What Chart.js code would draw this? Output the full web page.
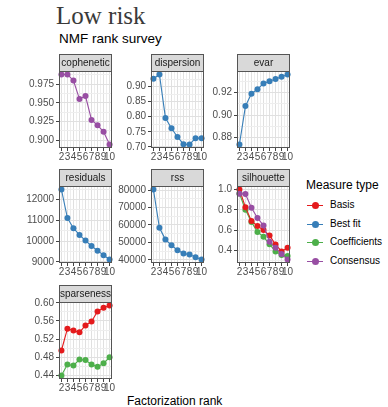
<!DOCTYPE html>
<html>
<head>
<meta charset="utf-8">
<script src="https://cdn.jsdelivr.net/npm/chart.js@4.4.0/dist/chart.umd.min.js"></script>
<style>
  body { margin:0; background:#fff; width:388px; height:407px; overflow:hidden; position:relative; font-family:"Liberation Sans", Arial, sans-serif; }
  canvas { position:absolute; }
  #title { position:absolute; left:56px; top:3px; font:25px/25px "Liberation Serif", serif; color:#3a3a3a; }
  #subtitle { position:absolute; left:59px; top:31px; font:13.5px/15px "Liberation Sans", Arial, sans-serif; color:#000; }
  #xlab { position:absolute; left:127px; top:394px; font:12px/14px "Liberation Sans", Arial, sans-serif; color:#000; }
  #legend { position:absolute; left:306px; top:177px; color:#000; }
  #legend .ttl { font:12px/16px "Liberation Sans", Arial, sans-serif; margin-bottom:3px; }
  #legend .item { position:relative; height:18.5px; font:10px/18.5px "Liberation Sans", Arial, sans-serif; padding-left:24px; }
  #legend .ln { position:absolute; left:1px; top:9px; width:16px; height:0; border-top:1px solid; }
  #legend .dot { position:absolute; left:5.5px; top:6px; width:7px; height:7px; border-radius:50%; }
</style>
</head>
<body>
<div id="title">Low risk</div>
<div id="subtitle">NMF rank survey</div>
<div id="xlab">Factorization rank</div>
<div id="legend"><div class="ttl">Measure type</div></div>
<script>
// data
const ranks = [2, 3, 4, 5, 6, 7, 8, 9, 10];
const cophenetic = [0.988, 0.988, 0.980, 0.955, 0.959, 0.927, 0.920, 0.911, 0.894];
const dispersion = [0.926, 0.940, 0.796, 0.762, 0.733, 0.709, 0.708, 0.729, 0.729];
const evar = [0.874, 0.908, 0.919, 0.923, 0.928, 0.930, 0.932, 0.934, 0.936];
const residuals = [12485, 11110, 10625, 10300, 10030, 9770, 9545, 9330, 9120];
const rss = [80300, 58400, 51600, 48400, 45500, 43600, 43000, 41500, 40200];
const silBasis = [1.000, 0.826, 0.690, 0.640, 0.600, 0.547, 0.458, 0.390, 0.425];
const silCoef = [0.960, 0.800, 0.680, 0.580, 0.535, 0.460, 0.390, 0.355, 0.345];
const silCons = [0.958, 0.955, 0.820, 0.720, 0.645, 0.485, 0.425, 0.365, 0.310];
const sparBasis = [0.495, 0.543, 0.539, 0.535, 0.550, 0.559, 0.581, 0.589, 0.594];
const sparCoef = [0.440, 0.464, 0.462, 0.475, 0.474, 0.464, 0.459, 0.467, 0.480];

// tick labels
const rankLabels = ['2', '3', '4', '5', '6', '7', '8', '9', '10'];
const cophTicks = ['0.900', '0.925', '0.950', '0.975'];
const dispTicks = ['0.70', '0.75', '0.80', '0.85', '0.90'];
const evarTicks = ['0.88', '0.90', '0.92'];
const residTicks = ['9000', '10000', '11000', '12000'];
const rssTicks = ['40000', '50000', '60000', '70000', '80000'];
const silTicks = ['0.4', '0.6', '0.8', '1.0'];
const sparTicks = ['0.44', '0.48', '0.52', '0.56', '0.60'];

const measures = ['Basis', 'Best fit', 'Coefficients', 'Consensus'];
const colors = { 'Basis':'#E41A1C', 'Best fit':'#377EB8', 'Coefficients':'#4DAF4A', 'Consensus':'#984EA3' };

const panels = [
  { name:'cophenetic', col:0, row:0, ticks:cophTicks, series:[['Consensus', cophenetic]] },
  { name:'dispersion', col:1, row:0, ticks:dispTicks, series:[['Best fit', dispersion]] },
  { name:'evar', col:2, row:0, ticks:evarTicks, series:[['Best fit', evar]] },
  { name:'residuals', col:0, row:1, ticks:residTicks, series:[['Best fit', residuals]] },
  { name:'rss', col:1, row:1, ticks:rssTicks, series:[['Best fit', rss]] },
  { name:'silhouette', col:2, row:1, ticks:silTicks, series:[['Consensus', silCons], ['Basis', silBasis], ['Coefficients', silCoef]] },
  { name:'sparseness', col:0, row:2, ticks:sparTicks, series:[['Basis', sparBasis], ['Coefficients', sparCoef]] },
];

// layout
const colLeft = [59, 151, 237], rowTop = [71, 186, 302];
const PW = 53, PH = 77, AX = 44, STRIP = 17, XH = 18, PADR = 10;
const FONT = '"Liberation Sans", Arial, sans-serif';

function near(list, v){ return list.some(x => Math.abs(x - v) < 1e-9 * Math.max(1, Math.abs(x))); }

function withMinor(major, lo, hi){
  const out = major.slice();
  const step = major[1] - major[0];
  for (let i = -1; i < major.length; i++) {
    const m = major[0] + step * (i + 0.5);
    if (m > lo && m < hi) out.push(m);
  }
  return out.sort((a, b) => a - b);
}

// strip, panel border and the rank labels under each panel
const frame = {
  id:'frame',
  afterDraw(chart){
    const a = chart.chartArea, c = chart.ctx, xs = chart.scales.x;
    c.save();
    c.fillStyle = '#d9d9d9';
    c.fillRect(a.left, a.top - STRIP + 0.5, a.right - a.left, STRIP - 0.5);
    c.strokeStyle = '#555';
    c.lineWidth = 1;
    c.strokeRect(a.left + 0.5, a.top - STRIP + 0.5, a.right - a.left - 1, STRIP);
    c.strokeRect(a.left + 0.5, a.top + 0.5, a.right - a.left - 1, a.bottom - a.top - 1);
    c.fillStyle = '#1a1a1a';
    c.font = '10px ' + FONT;
    c.textAlign = 'center';
    c.textBaseline = 'middle';
    c.fillText(chart.options.plugins.frame.label, (a.left + a.right) / 2, a.top - STRIP / 2 + 1);
    c.fillStyle = '#4d4d4d';
    c.textBaseline = 'top';
    ranks.forEach((r, i) => c.fillText(rankLabels[i], xs.getPixelForValue(r), a.bottom + 4));
    c.restore();
  }
};

panels.forEach(p => {
  const cv = document.createElement('canvas');
  const w = AX + PW + PADR, h = STRIP + PH + XH;
  cv.width = w; cv.height = h;
  cv.style.left = (colLeft[p.col] - AX) + 'px';
  cv.style.top = (rowTop[p.row] - STRIP) + 'px';
  document.body.appendChild(cv);

  const all = p.series.flatMap(s => s[1]);
  const lo = Math.min(...all), hi = Math.max(...all), pad = (hi - lo) * 0.05;
  const yMin = lo - pad, yMax = hi + pad;
  const yMajor = p.ticks.map(Number);
  const yAll = withMinor(yMajor, yMin, yMax);
  const xMin = 1.6, xMax = 10.4;
  const xAll = withMinor(ranks, xMin, xMax);

  new Chart(cv, {
    type:'line',
    data:{
      datasets: p.series.map(([m, vals]) => ({
        label:m,
        data: ranks.map((r, i) => ({ x:r, y:vals[i] })),
        borderColor: colors[m],
        backgroundColor: colors[m],
        borderWidth: 1.1,
        pointRadius: 3,
        pointBorderWidth: 0,
        tension: 0,
        clip: 4
      }))
    },
    options:{
      responsive:false, animation:false, devicePixelRatio:1, events:[],
      layout:{ padding:{ top:STRIP, right:PADR, left:0, bottom:0 } },
      plugins:{ legend:{ display:false }, tooltip:{ enabled:false }, frame:{ label:p.name } },
      scales:{
        x:{
          type:'linear', min:xMin, max:xMax,
          afterBuildTicks: s => { s.ticks = xAll.map(v => ({ value:v })); },
          afterFit: s => { s.height = XH; s.paddingLeft = 0; s.paddingRight = 0; },
          border:{ display:false },
          grid:{
            color: ctx => near(ranks, ctx.tick.value) ? '#e0e0e0' : '#eeeeee',
            tickColor: ctx => near(ranks, ctx.tick.value) ? '#444' : 'rgba(0,0,0,0)',
            tickLength:3, lineWidth:1
          },
          ticks:{ display:false }
        },
        y:{
          type:'linear', min:yMin, max:yMax,
          afterBuildTicks: s => { s.ticks = yAll.map(v => ({ value:v })); },
          afterFit: s => { s.width = AX; s.paddingTop = 0; s.paddingBottom = 0; },
          border:{ display:false },
          grid:{
            color: ctx => near(yMajor, ctx.tick.value) ? '#e0e0e0' : '#eeeeee',
            tickColor: ctx => near(yMajor, ctx.tick.value) ? '#444' : 'rgba(0,0,0,0)',
            tickLength:3, lineWidth:1
          },
          ticks:{
            autoSkip:false, padding:2,
            color:'#4d4d4d', font:{ size:10, family:FONT },
            callback: v => { const i = yMajor.findIndex(x => Math.abs(x - v) < 1e-9 * Math.max(1, Math.abs(x))); return i >= 0 ? p.ticks[i] : ''; }
          }
        }
      }
    },
    plugins:[frame]
  });
});

// legend
const lg = document.getElementById('legend');
measures.forEach(m => {
  const d = document.createElement('div');
  d.className = 'item';
  d.innerHTML = '<span class="ln" style="border-color:' + colors[m] + '"></span><span class="dot" style="background:' + colors[m] + '"></span>' + m;
  lg.appendChild(d);
});
</script>
</body>
</html>
